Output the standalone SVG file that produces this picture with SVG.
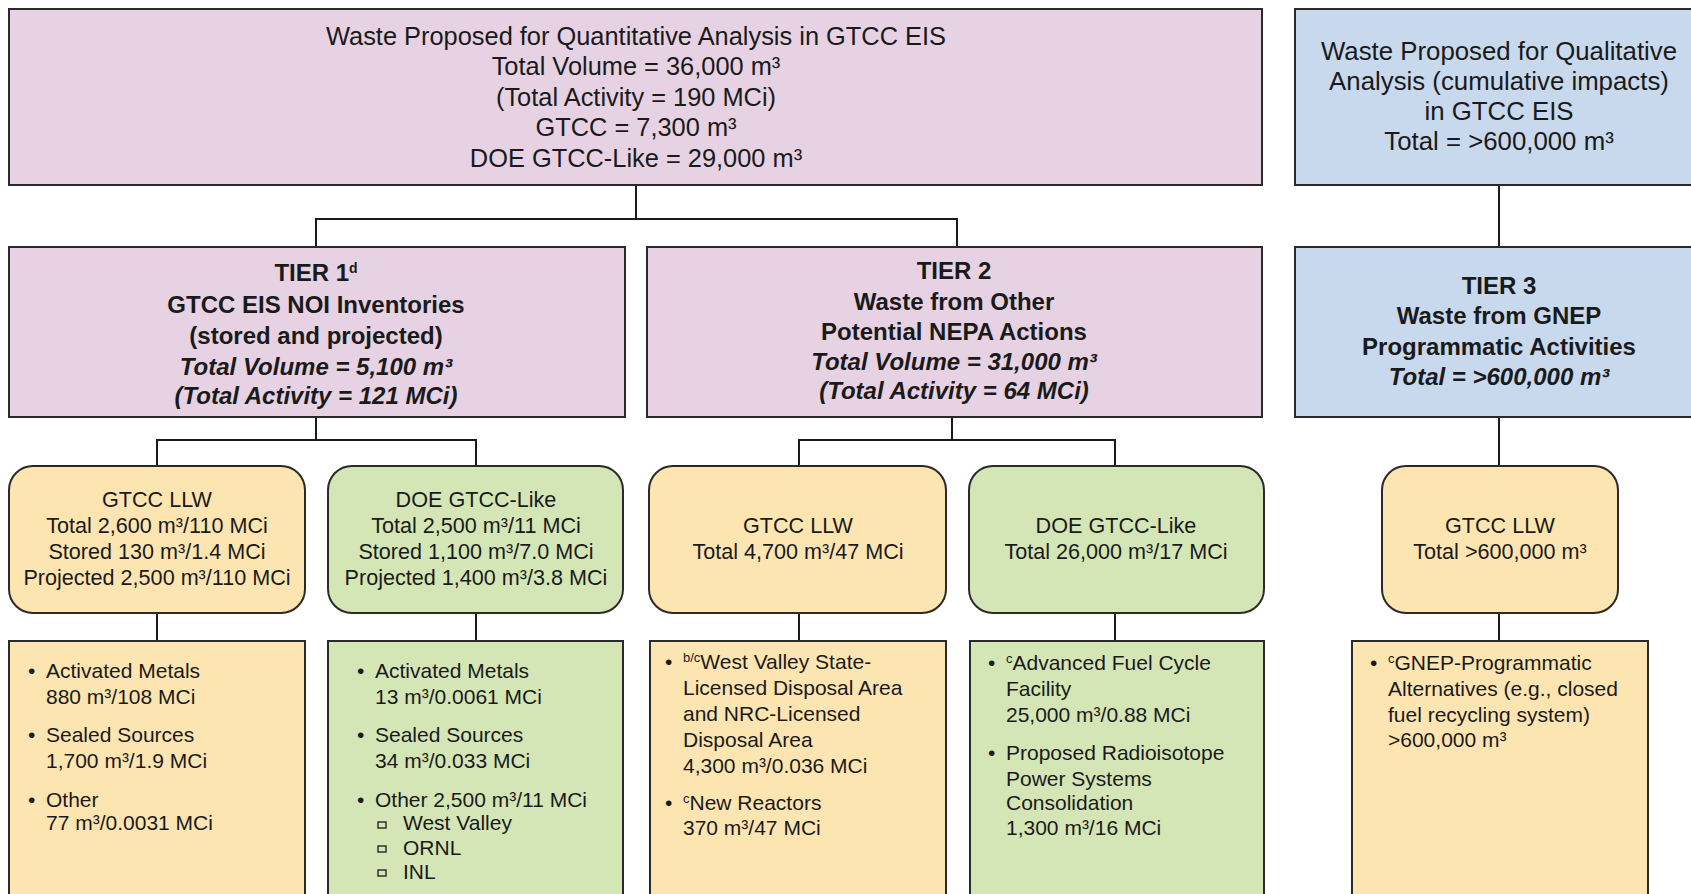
<svg xmlns="http://www.w3.org/2000/svg" width="1691" height="894" viewBox="0 0 1691 894">
<style>
.box{stroke:#2a2a2a;stroke-width:2}
.pur{fill:#e6d2e3}
.blu{fill:#c8d8ed}
.org{fill:#fde5b2}
.grn{fill:#d5e6b6}
.conn{stroke:#1a1a1a;stroke-width:2;fill:none}
text{font-family:"Liberation Sans",Arial,sans-serif;fill:#1a1a1a}
.top{font-size:25.4px;text-anchor:middle}
.qt{font-size:25.8px;text-anchor:middle}
.head{font-size:24px;font-weight:bold;text-anchor:middle}
.hi{font-style:italic}
.mid{font-size:21.6px;text-anchor:middle}
.body{font-size:21px}
.sq{fill:none;stroke:#1a1a1a;stroke-width:1.3}
</style>
<rect width="1691" height="894" fill="#ffffff"/>
<g id="connectors">
<path class="conn" d="M636 185V219M316 247V219H957V247"/>
<path class="conn" d="M1499 185V247M1499 417V466"/>
<path class="conn" d="M316 417V440M157 466V440H476V466"/>
<path class="conn" d="M952 417V440M799 466V440H1115V466"/>
<path class="conn" d="M157 613V641M476 613V641M799 613V641M1115 613V641M1499 613V641"/>
</g>
<g id="quant">
<rect class="box pur" x="9" y="9" width="1253" height="176"/>
<text class="top" x="636" y="45">Waste Proposed for Quantitative Analysis in GTCC EIS</text>
<text class="top" x="636" y="75">Total Volume = 36,000 m³</text>
<text class="top" x="636" y="106">(Total Activity = 190 MCi)</text>
<text class="top" x="636" y="136">GTCC = 7,300 m³</text>
<text class="top" x="636" y="167">DOE GTCC-Like = 29,000 m³</text>
</g>
<g id="qual">
<rect class="box blu" x="1295" y="9" width="410" height="176"/>
<text class="qt" x="1499" y="60">Waste Proposed for Qualitative</text>
<text class="qt" x="1499" y="90">Analysis (cumulative impacts)</text>
<text class="qt" x="1499" y="120">in GTCC EIS</text>
<text class="qt" x="1499" y="150">Total = &gt;600,000 m³</text>
</g>
<g id="tier1">
<rect class="box pur" x="9" y="247" width="616" height="170"/>
<text class="head" x="316" y="281">TIER 1<tspan font-size="14" baseline-shift="super">d</tspan></text>
<text class="head" x="316" y="313">GTCC EIS NOI Inventories</text>
<text class="head" x="316" y="344">(stored and projected)</text>
<text class="head hi" x="316" y="375">Total Volume = 5,100 m³</text>
<text class="head hi" x="316" y="404">(Total Activity = 121 MCi)</text>
</g>
<g id="tier2">
<rect class="box pur" x="647" y="247" width="615" height="170"/>
<text class="head" x="954" y="279">TIER 2</text>
<text class="head" x="954" y="310">Waste from Other</text>
<text class="head" x="954" y="340">Potential NEPA Actions</text>
<text class="head hi" x="954" y="370">Total Volume = 31,000 m³</text>
<text class="head hi" x="954" y="399">(Total Activity = 64 MCi)</text>
</g>
<g id="tier3">
<rect class="box blu" x="1295" y="247" width="410" height="170"/>
<text class="head" x="1499" y="294">TIER 3</text>
<text class="head" x="1499" y="324">Waste from GNEP</text>
<text class="head" x="1499" y="355">Programmatic Activities</text>
<text class="head hi" x="1499" y="385">Total = &gt;600,000 m³</text>
</g>
<g id="t1-llw">
<rect class="box org" x="9" y="466" width="296" height="147" rx="24"/>
<text class="mid" x="157" y="507">GTCC LLW</text>
<text class="mid" x="157" y="533">Total 2,600 m³/110 MCi</text>
<text class="mid" x="157" y="559">Stored 130 m³/1.4 MCi</text>
<text class="mid" x="157" y="585">Projected 2,500 m³/110 MCi</text>
</g>
<g id="t1-doe">
<rect class="box grn" x="328" y="466" width="295" height="147" rx="24"/>
<text class="mid" x="476" y="507">DOE GTCC-Like</text>
<text class="mid" x="476" y="533">Total 2,500 m³/11 MCi</text>
<text class="mid" x="476" y="559">Stored 1,100 m³/7.0 MCi</text>
<text class="mid" x="476" y="585">Projected 1,400 m³/3.8 MCi</text>
</g>
<g id="t2-llw">
<rect class="box org" x="649" y="466" width="297" height="147" rx="24"/>
<text class="mid" x="798" y="533">GTCC LLW</text>
<text class="mid" x="798" y="559">Total 4,700 m³/47 MCi</text>
</g>
<g id="t2-doe">
<rect class="box grn" x="969" y="466" width="295" height="147" rx="24"/>
<text class="mid" x="1116" y="533">DOE GTCC-Like</text>
<text class="mid" x="1116" y="559">Total 26,000 m³/17 MCi</text>
</g>
<g id="t3-llw">
<rect class="box org" x="1382" y="466" width="236" height="147" rx="24"/>
<text class="mid" x="1500" y="533">GTCC LLW</text>
<text class="mid" x="1500" y="559">Total &gt;600,000 m³</text>
</g>
<g id="t1-llw-list">
<rect class="box org" x="9" y="641" width="296" height="270"/>
<text class="body" x="28" y="678">•</text>
<text class="body" x="46" y="678">Activated Metals</text>
<text class="body" x="46" y="704">880 m³/108 MCi</text>
<text class="body" x="28" y="742">•</text>
<text class="body" x="46" y="742">Sealed Sources</text>
<text class="body" x="46" y="768">1,700 m³/1.9 MCi</text>
<text class="body" x="28" y="807">•</text>
<text class="body" x="46" y="807">Other</text>
<text class="body" x="46" y="830">77 m³/0.0031 MCi</text>
</g>
<g id="t1-doe-list">
<rect class="box grn" x="328" y="641" width="295" height="270"/>
<text class="body" x="357" y="678">•</text>
<text class="body" x="375" y="678">Activated Metals</text>
<text class="body" x="375" y="704">13 m³/0.0061 MCi</text>
<text class="body" x="357" y="742">•</text>
<text class="body" x="375" y="742">Sealed Sources</text>
<text class="body" x="375" y="768">34 m³/0.033 MCi</text>
<text class="body" x="357" y="807">•</text>
<text class="body" x="375" y="807">Other 2,500 m³/11 MCi</text>
<rect class="sq" x="378" y="822" width="8" height="6"/>
<text class="body" x="403" y="830">West Valley</text>
<rect class="sq" x="378" y="846" width="8" height="6"/>
<text class="body" x="403" y="855">ORNL</text>
<rect class="sq" x="378" y="870" width="8" height="6"/>
<text class="body" x="403" y="879">INL</text>
</g>
<g id="t2-llw-list">
<rect class="box org" x="650" y="641" width="296" height="270"/>
<text class="body" x="665" y="669">•</text>
<text class="body" x="683" y="669"><tspan font-size="13" baseline-shift="super">b/c</tspan>West Valley State-</text>
<text class="body" x="683" y="695">Licensed Disposal Area</text>
<text class="body" x="683" y="721">and NRC-Licensed</text>
<text class="body" x="683" y="747">Disposal Area</text>
<text class="body" x="683" y="773">4,300 m³/0.036 MCi</text>
<text class="body" x="665" y="810">•</text>
<text class="body" x="683" y="810"><tspan font-size="13" baseline-shift="super">c</tspan>New Reactors</text>
<text class="body" x="683" y="835">370 m³/47 MCi</text>
</g>
<g id="t2-doe-list">
<rect class="box grn" x="970" y="641" width="294" height="270"/>
<text class="body" x="988" y="670">•</text>
<text class="body" x="1006" y="670"><tspan font-size="13" baseline-shift="super">c</tspan>Advanced Fuel Cycle</text>
<text class="body" x="1006" y="696">Facility</text>
<text class="body" x="1006" y="722">25,000 m³/0.88 MCi</text>
<text class="body" x="988" y="760">•</text>
<text class="body" x="1006" y="760">Proposed Radioisotope</text>
<text class="body" x="1006" y="786">Power Systems</text>
<text class="body" x="1006" y="810">Consolidation</text>
<text class="body" x="1006" y="835">1,300 m³/16 MCi</text>
</g>
<g id="t3-llw-list">
<rect class="box org" x="1352" y="641" width="296" height="270"/>
<text class="body" x="1370" y="670">•</text>
<text class="body" x="1388" y="670"><tspan font-size="13" baseline-shift="super">c</tspan>GNEP-Programmatic</text>
<text class="body" x="1388" y="696">Alternatives (e.g., closed</text>
<text class="body" x="1388" y="722">fuel recycling system)</text>
<text class="body" x="1388" y="747">&gt;600,000 m³</text>
</g>
</svg>
